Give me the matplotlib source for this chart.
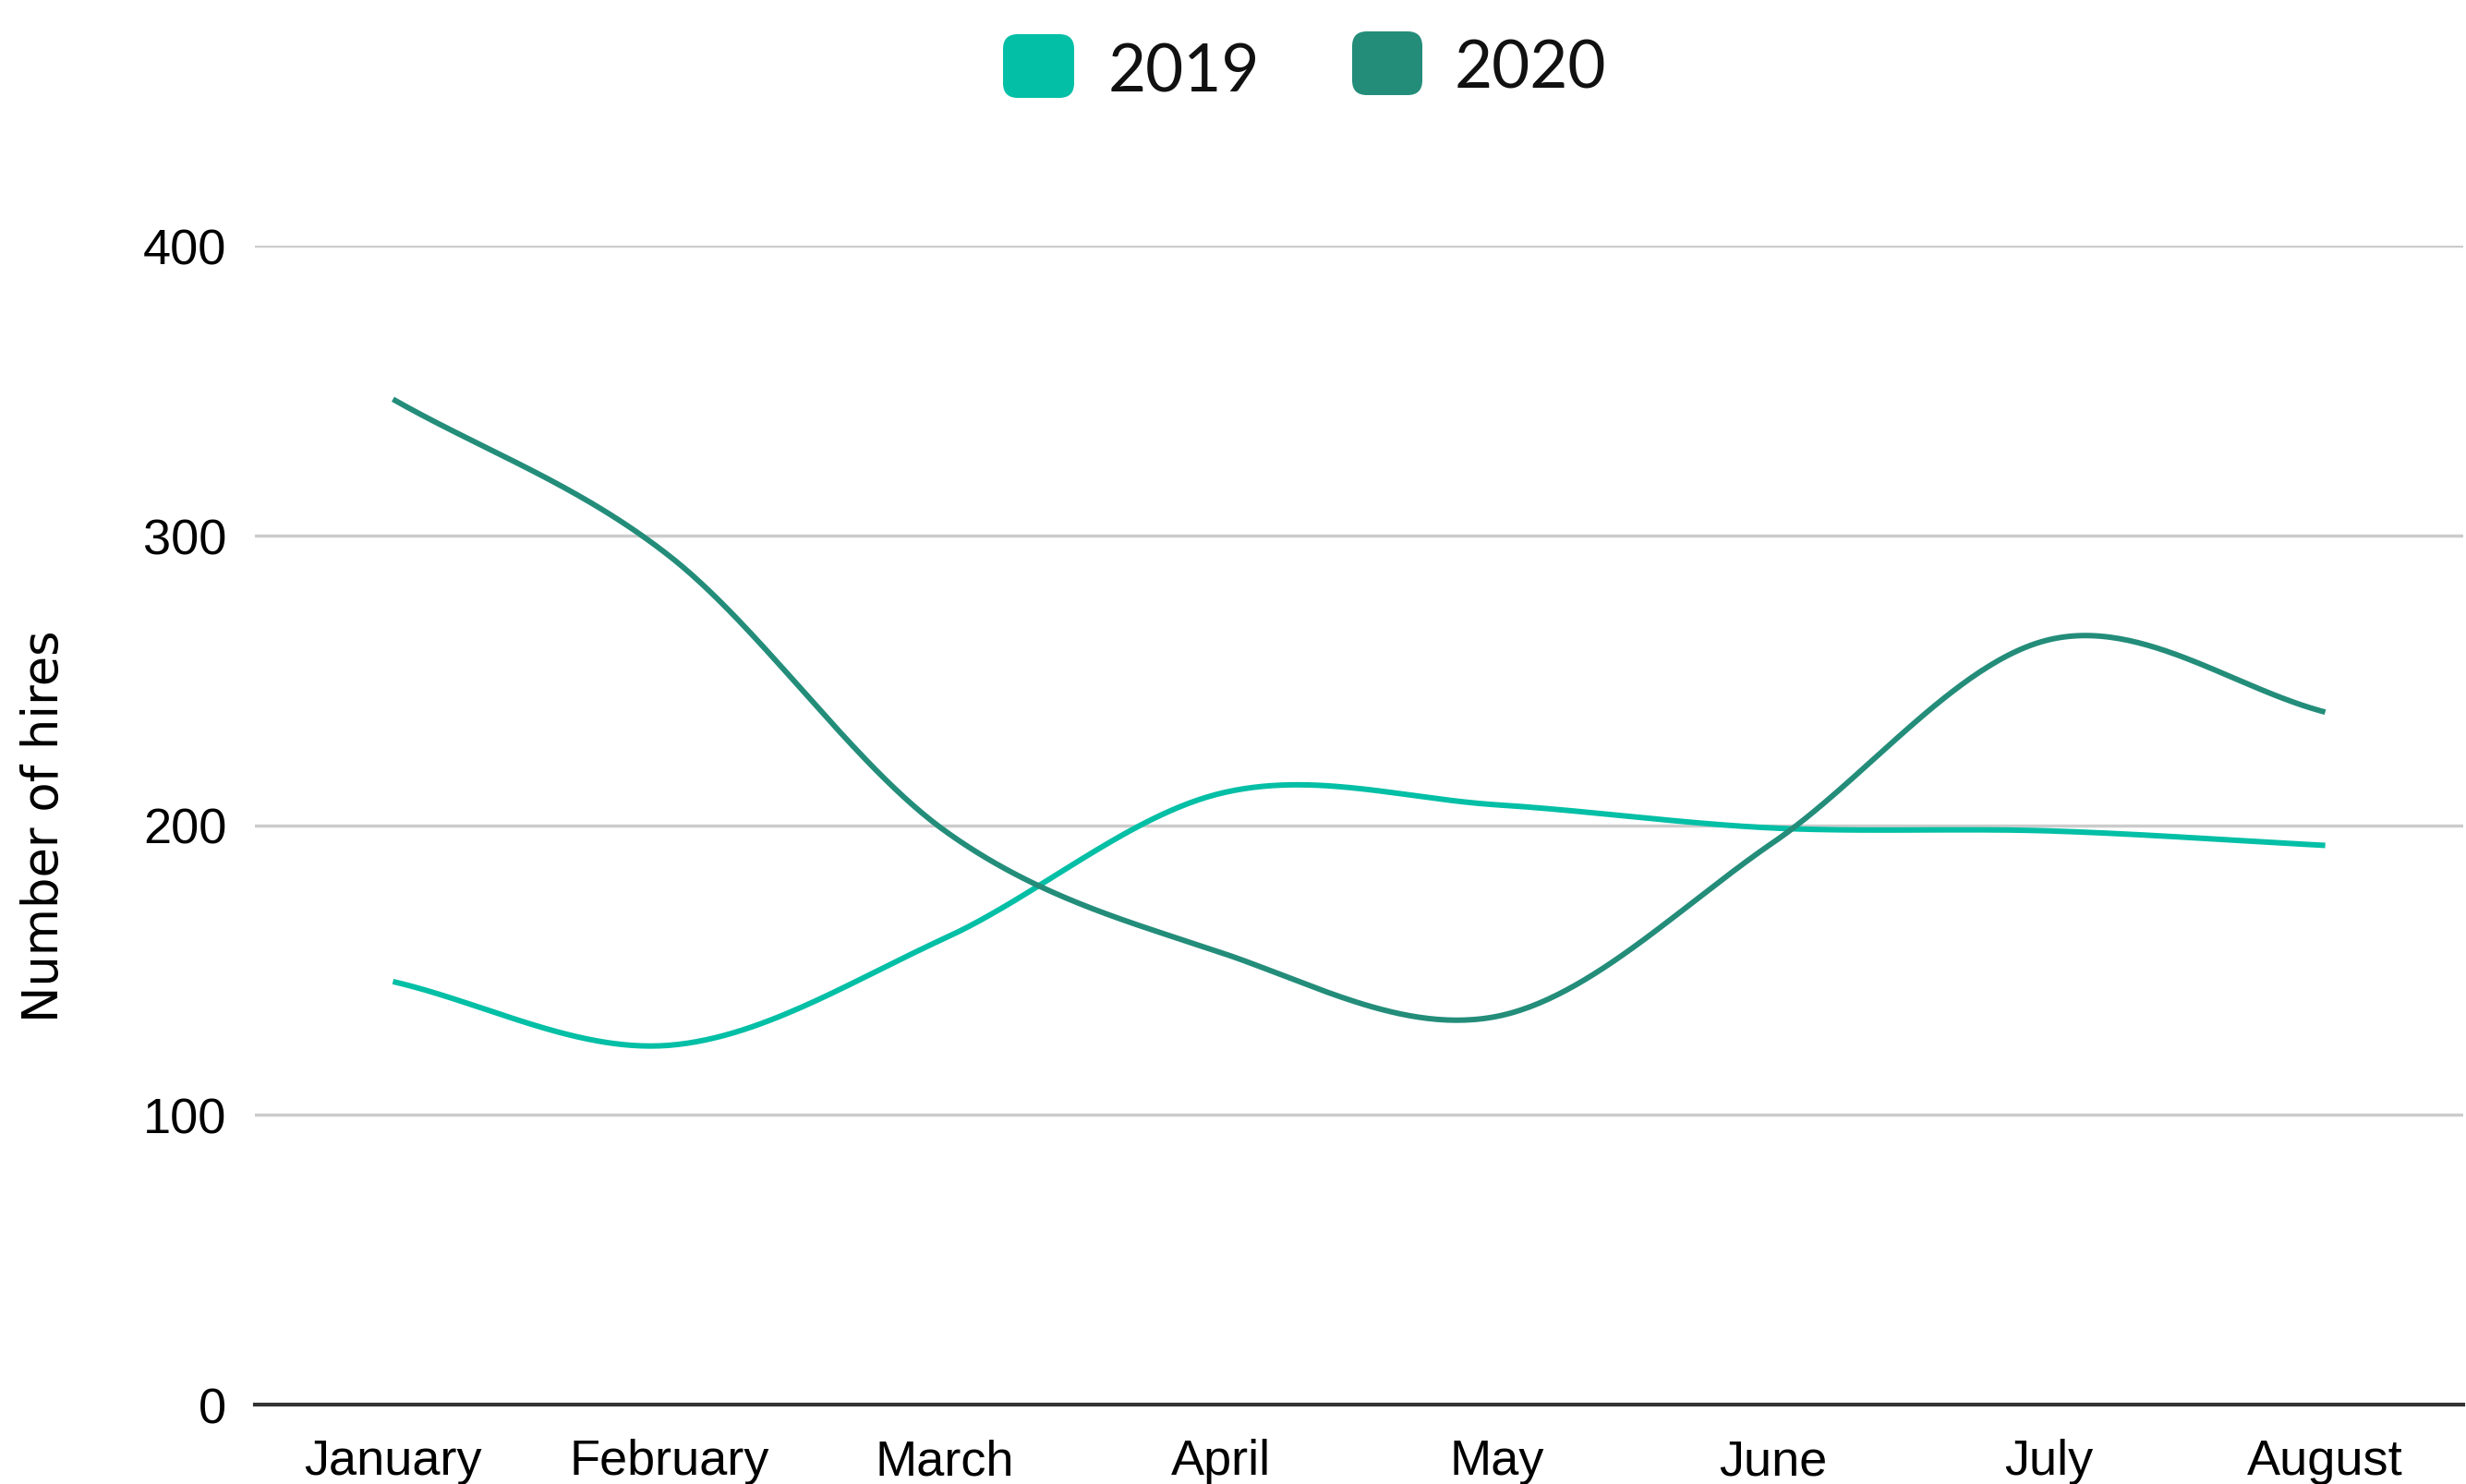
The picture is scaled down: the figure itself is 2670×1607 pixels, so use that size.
import numpy as np
import matplotlib
matplotlib.use("Agg")
import matplotlib.pyplot as plt
from matplotlib.patches import FancyBboxPatch

# ---- data ----
months = ["January", "February", "March", "April", "May", "June", "July", "August"]
hires_2019 = [146, 124, 161, 211, 207, 199, 198, 193]
hires_2020 = [347, 293, 198, 156, 134, 194, 264, 239]
series_names = ["2019", "2020"]
colors = ["#03BFA6", "#238D7A"]
yticks = [0, 100, 200, 300, 400]

W, H = 2670, 1608


def smooth(values, n=60):
    """Catmull-Rom style cubic Hermite curve through the data points."""
    y = np.asarray(values, float)
    x = np.arange(len(y), dtype=float)
    m = np.empty_like(y)
    m[1:-1] = (y[2:] - y[:-2]) / 2.0
    m[0] = y[1] - y[0]
    m[-1] = y[-1] - y[-2]
    xs, ys = [], []
    for i in range(len(y) - 1):
        t = np.linspace(0, 1, n, endpoint=(i == len(y) - 2))
        h00 = 2 * t**3 - 3 * t**2 + 1
        h10 = t**3 - 2 * t**2 + t
        h01 = -2 * t**3 + 3 * t**2
        h11 = t**3 - t**2
        xs.append(x[i] + t)
        ys.append(h00 * y[i] + h10 * m[i] + h01 * y[i + 1] + h11 * m[i + 1])
    return np.concatenate(xs), np.concatenate(ys)


fig = plt.figure(figsize=(W / 100, H / 100), dpi=100)
ax = fig.add_axes([276 / W, 1 - 1522 / H, (2667 - 276) / W, (1522 - 267) / H])

for vals, c in zip([hires_2019, hires_2020], colors):
    sx, sy = smooth(vals)
    ax.plot(sx, sy, color=c, lw=4.3, solid_capstyle="butt", zorder=3)

ax.set_xlim(-0.5, len(months) - 0.5)
ax.set_ylim(0, 400)
ax.set_xticks(range(len(months)))
ax.set_xticklabels(months, fontsize=39, family="Liberation Sans")
ax.set_yticks(yticks)
ax.set_yticklabels([str(v) for v in yticks], fontsize=39, family="Liberation Sans")
ax.tick_params(axis="x", length=0, pad=26)
ax.tick_params(axis="y", length=0, pad=22)
ax.yaxis.grid(True, color="#cccccc", lw=2.5)
ax.set_axisbelow(True)
for s in ["left", "right", "top"]:
    ax.spines[s].set_visible(False)
ax.spines["bottom"].set_color("#333333")
ax.spines["bottom"].set_linewidth(3)
ax.spines["bottom"].set_zorder(4)

ax.set_ylabel("Number of hires", fontsize=38, family="DejaVu Sans", va="center")
ax.yaxis.set_label_coords((48 - 276) / (2667 - 276), 0.5)

# ---- legend ----
legend_boxes = [(1086, 38, 77, 69), (1464, 35, 76, 69)]
legend_text_x = [1200, 1575]
for (bx, by, bw, bh), tx, name, c in zip(legend_boxes, legend_text_x, series_names, colors):
    r = 16
    patch = FancyBboxPatch(((bx + r) / W, 1 - (by + bh - r) / H), (bw - 2 * r) / W, (bh - 2 * r) / H,
                           boxstyle=f"round,pad={r / W},rounding_size={r / W}",
                           transform=fig.transFigure, facecolor=c, edgecolor="none",
                           mutation_aspect=W / H)
    fig.patches.append(patch)
    fig.text(tx / W, 1 - (by + bh / 2 + 6) / H, name, fontsize=51, family="Lato",
             ha="left", va="center", color="#111111")

fig.savefig("out.png", dpi=100, facecolor="white")
